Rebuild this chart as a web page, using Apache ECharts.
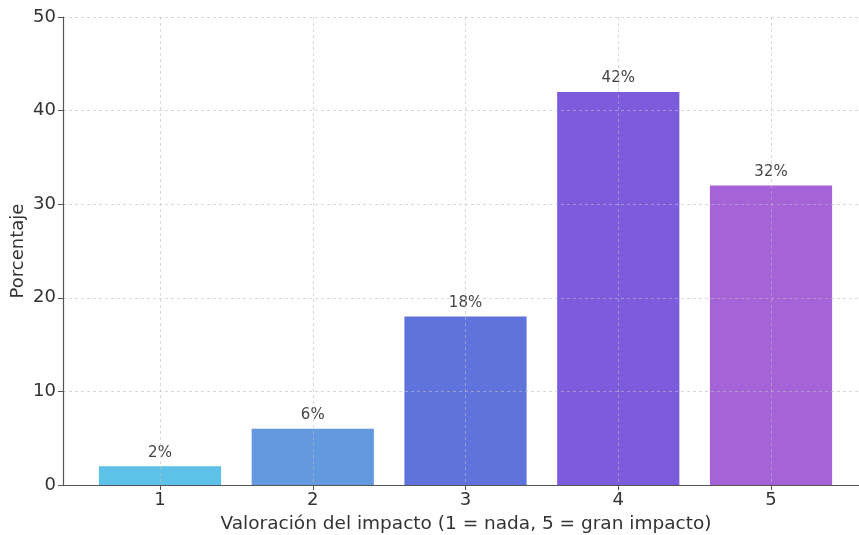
<!DOCTYPE html>
<html><head><meta charset="utf-8">
<script src="https://cdn.jsdelivr.net/npm/echarts@6/dist/echarts.min.js"></script>
<style>html,body{margin:0;padding:0;background:#fff}#c{width:859px;height:535px}</style>
</head><body><div id="c"></div>
<script>
const categories = [1, 2, 3, 4, 5];
const values = [2, 6, 18, 42, 32];
const barColors = ['#5DC1E8', '#6399DE', '#6073DD', '#7D5BDD', '#A563D7'];
const yTicks = [0, 10, 20, 30, 40, 50];

const chart = echarts.init(document.getElementById('c'), null, {renderer: 'canvas'});
const gridLeft = 63, gridRight = 0;
const plotW = 859 - gridLeft - gridRight;
const xMin = 0.365, xMax = 5.576;
const barW = 0.8 * plotW / (xMax - xMin);
const font = 'DejaVu Sans';
const gridLine = {show: true, lineStyle: {color: 'rgba(190,190,190,0.75)', type: [3, 3], width: 0.8}};

chart.setOption({
  animation: false,
  textStyle: {fontFamily: font},
  grid: {left: gridLeft, right: gridRight, top: 17, bottom: 50, containLabel: false, outerBoundsMode: 'none'},
  xAxis: {
    type: 'value', min: xMin, max: xMax, z: 3,
    name: 'Valoración del impacto (1 = nada, 5 = gran impacto)',
    nameLocation: 'middle', nameGap: 30,
    nameTextStyle: {fontSize: 18.5, color: '#333', fontFamily: font, padding: [0, 0, 0, 10]},
    axisLine: {show: true, lineStyle: {color: '#555', width: 1.2}},
    axisTick: {show: true, length: 5, lineStyle: {color: '#555'}, customValues: categories},
    axisLabel: {fontSize: 18, color: '#333', margin: 6, fontFamily: font, customValues: categories},
    splitLine: gridLine
  },
  yAxis: {
    type: 'value', min: 0, max: 50, interval: 10, z: 3,
    name: 'Porcentaje', nameLocation: 'middle', nameGap: 36, nameMoveOverlap: false,
    nameTextStyle: {fontSize: 18, color: '#333', fontFamily: font},
    axisLine: {show: true, lineStyle: {color: '#555', width: 1.2}},
    axisTick: {show: true, length: 5, lineStyle: {color: '#555'}},
    axisLabel: {fontSize: 18, color: '#333', margin: 7, fontFamily: font},
    splitLine: gridLine
  },
  series: [{
    type: 'bar', z: 1,
    barWidth: barW,
    data: categories.map((c, i) => ({value: [c, values[i]], itemStyle: {color: barColors[i]}})),
    label: {show: true, position: 'top', distance: 6, fontSize: 15, color: '#444', fontFamily: font,
            formatter: p => p.value[1] + '%'}
  }]
});
</script></body></html>
